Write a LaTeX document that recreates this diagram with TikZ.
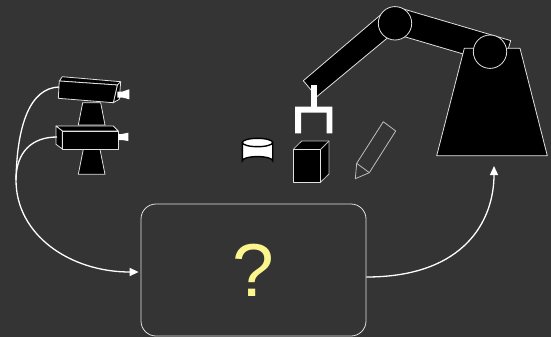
\documentclass[tikz,border=0pt]{standalone}
\usepackage{fontspec}
\setmainfont{Liberation Sans}
\usepackage{xcolor}
\usetikzlibrary{arrows.meta, calc}
\definecolor{board}{RGB}{52,52,52}
\definecolor{edge}{RGB}{225,225,225}
\definecolor{pencil}{RGB}{190,190,190}
\definecolor{qmark}{RGB}{250,245,140}

\begin{document}
\begin{tikzpicture}[x=1pt, y=-1pt,
  part/.style={fill=black, draw=edge, line width=0.8pt, line join=round},
  feed/.style={draw=white, line width=1.3pt, -{Triangle[length=9pt, width=8pt]}},
  ctrlbox/.style={draw=edge, line width=0.8pt, rounded corners=15pt, minimum width=225pt,
    minimum height=132pt, inner sep=0pt, text=qmark, font=\fontsize{75}{75}\selectfont}]
\fill[board] (0,0) rectangle (551,337);
\useasboundingbox (0,0) rectangle (551,337);

% upper camera
\draw[part] (82.7,102.7) -- (100.7,102.7) -- (105,125) -- (78.3,125) -- cycle;
\draw[part] (62.3,76.7) -- (120.7,81.7) -- (117.3,85) -- (59.3,81) -- cycle;
\draw[part] (117.3,85) -- (120.7,81.7) -- (119.3,99.3) -- (113.3,102.7) -- cycle;
\draw[part] (59.3,81) -- (117.3,85) -- (113.3,102.7) -- (58.3,98.3) -- cycle;
\fill[white] (117.3,91.5) -- (122.5,91.5) -- (129.3,89.3) -- (129.3,99.3) -- (122.5,97.5) -- (117.3,97.5) -- cycle;

% lower camera
\draw[part] (83.3,149.3) -- (100,149.3) -- (105,174.3) -- (78.3,174.3) -- cycle;
\draw[part] (56,126) -- (113.3,126) -- (118.3,131) -- (62.3,131) -- cycle;
\draw[part] (56,126) -- (62.3,131) -- (62.3,149) -- (56,144.3) -- cycle;
\draw[part] (62.3,131) rectangle (118.3,149);
\fill[white] (118.3,134) -- (122,134) -- (128.3,132.7) -- (128.3,141) -- (122,140) -- (118.3,140) -- cycle;

\coordinate (cam1) at (59,87);
\coordinate (cam2) at (57,137);
\coordinate (merge) at (16,180);
\coordinate (basefoot) at (494,166);

\node[ctrlbox] (ctrl) at (253.5,270) {?};

\draw[feed] (cam1) .. controls (30,88) and (17,125) .. (merge)
  .. controls (16,235) and (70,272) .. ($(ctrl.west)+(-2,2)$);
\draw[white, line width=1.3pt] (cam2) .. controls (32,137) and (16,152) .. (merge);
\draw[feed] ($(ctrl.east)+(0,7)$) .. controls (465,277) and (494,220) .. (basefoot);

% robot arm
\draw[part] (303.3,80.7) -- (316.7,96.7) -- (397,30) -- (384,12) -- cycle;
\draw[part] (398.7,7.6) -- (510.7,40.6) -- (503.3,65.8) -- (391.3,32.8) -- cycle;
\draw[part] (464.3,48.3) -- (520,48.3) -- (547.3,155.7) -- (436.7,155.7) -- cycle;
\draw[part] (395,23.3) circle (16.7);
\draw[part] (490,51.7) circle (16.7);
\fill[white] (311.2,85) rectangle (316.8,107);
\fill[white] (295,106.7) -- (332.3,106.7) -- (332.3,133.3) -- (326.7,133.3) -- (326.7,112.7)
  -- (301,112.7) -- (301,133.3) -- (295,133.3) -- cycle;

% things on the table
\draw[fill=white, draw=black, line width=1.4pt] (242.3,142.5) -- (242.3,160.8)
  arc[start angle=180, end angle=360, x radius=15.2, y radius=4.2] -- (272.7,142.5);
\draw[fill=white, draw=black, line width=1.4pt] (257.5,142.5) ellipse [x radius=15.2, y radius=4.2];
\draw[part, draw=pencil] (293.3,149.3) -- (301.7,141) -- (329,141) -- (329,174) -- (320.7,182) -- cycle;
\draw[part] (293.3,149.3) rectangle (320.7,182);
\draw[pencil, line width=0.8pt] (320.7,149.3) -- (329,141);
\draw[pencil, line width=0.8pt, line join=round] (383.3,121.7) -- (395.7,131) -- (369.3,172.7)
  -- (356.7,163.3) -- cycle;
\draw[pencil, line width=0.8pt, line join=round] (356.7,163.3) -- (355.3,178.7) -- (369.3,172.7);
\end{tikzpicture}
\end{document}
